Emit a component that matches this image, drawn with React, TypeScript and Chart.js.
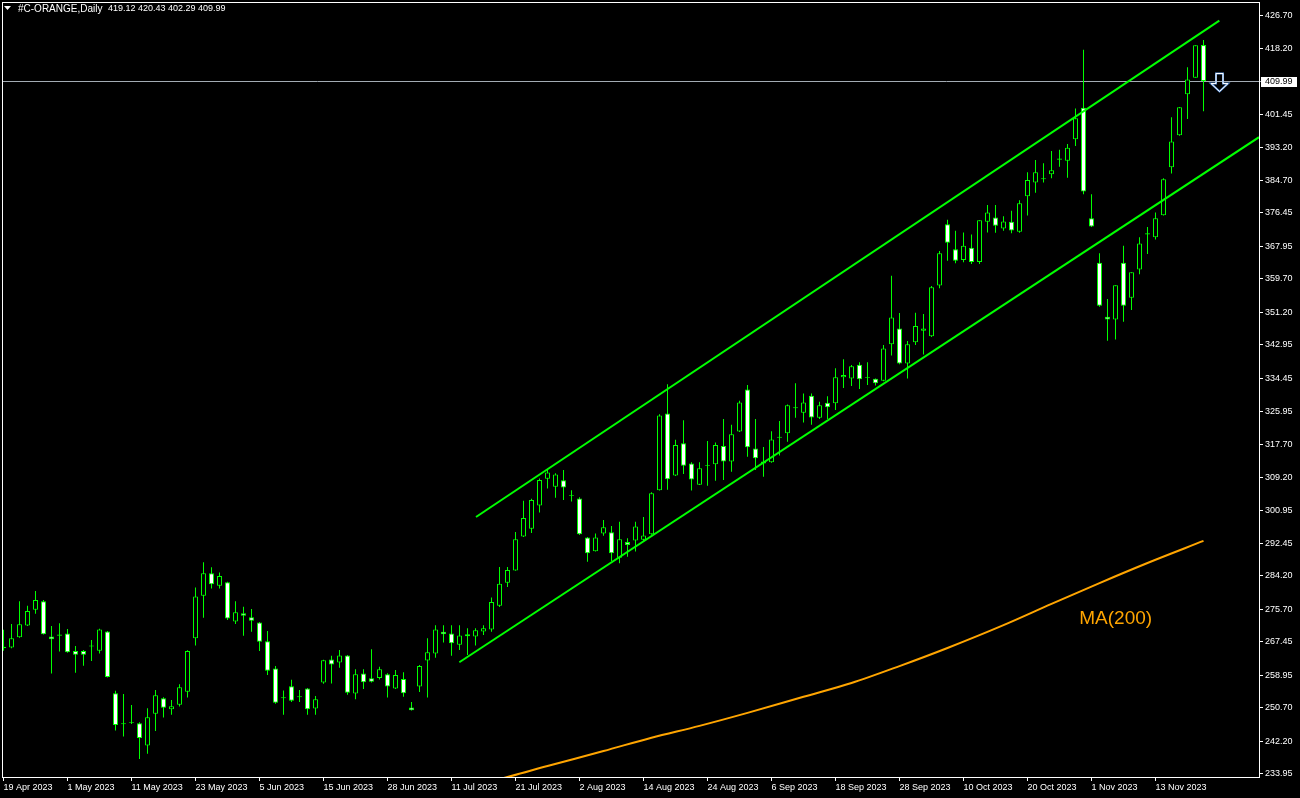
import { useEffect, useRef } from 'react';
import { Chart, registerables } from 'chart.js';

Chart.register(...registerables);

// ---- data ----
const dateLabels = [
  '19 Apr 2023', '1 May 2023', '11 May 2023', '23 May 2023', '5 Jun 2023', '15 Jun 2023',
  '28 Jun 2023', '11 Jul 2023', '21 Jul 2023', '2 Aug 2023', '14 Aug 2023', '24 Aug 2023',
  '6 Sep 2023', '18 Sep 2023', '28 Sep 2023', '10 Oct 2023', '20 Oct 2023', '1 Nov 2023', '13 Nov 2023',
];
const labelEvery = 8;

const opens = [
  265.8, 266.0, 268.6, 271.6, 275.6, 277.8, 268.8, 269.0, 269.6, 265.1,
  265.1, 266.3, 265.2, 270.1, 254.4, 246.5, 246.9, 246.8, 241.1, 249.2,
  253.1, 250.3, 251.5, 254.8, 268.4, 279.2, 284.9, 281.7, 282.6, 272.6,
  274.7, 273.7, 272.4, 267.6, 260.7, 253.1, 256.2, 253.4, 255.6, 250.5,
  257.1, 263.0, 262.2, 264.0, 254.3, 259.4, 258.2, 258.3, 259.2, 255.6,
  258.0, 250.8, 256.1, 262.7, 264.5, 270.0, 269.6, 266.7, 269.4, 268.8,
  270.1, 270.6, 276.6, 282.5, 285.6, 294.2, 296.2, 302.1, 308.9, 306.9,
  308.5, 304.6, 303.9, 294.0, 290.5, 295.0, 295.3, 288.8, 292.8, 293.2,
  293.4, 294.8, 306.0, 325.5, 309.7, 317.9, 312.8, 307.4, 312.2, 312.6,
  317.2, 313.3, 320.9, 331.6, 316.6, 312.8, 313.1, 319.3, 320.5, 326.8,
  325.7, 330.0, 324.4, 328.2, 328.1, 334.7, 334.4, 337.9, 334.5, 334.3,
  333.8, 343.1, 347.1, 338.2, 343.6, 346.5, 345.1, 358.0, 373.6, 367.2,
  364.5, 367.6, 364.0, 374.2, 375.3, 372.5, 374.2, 371.7, 380.7, 384.2,
  385.0, 386.3, 390.0, 389.7, 395.2, 403.2, 375.1, 363.8, 350.1, 349.4,
  363.8, 354.9, 362.1, 371.0, 370.3, 375.9, 388.1, 396.2, 406.6, 410.8,
  419.12,
];
const highs = [
  270.5, 272.0, 277.8, 276.6, 280.4, 278.1, 271.5, 272.2, 270.7, 266.4,
  265.4, 267.9, 270.8, 270.2, 255.0, 254.2, 251.4, 247.0, 250.6, 255.2,
  253.4, 252.7, 256.7, 265.3, 281.3, 287.7, 286.4, 285.1, 282.7, 277.8,
  276.4, 275.8, 272.5, 270.2, 261.3, 255.1, 257.8, 255.2, 255.7, 253.7,
  262.9, 263.9, 265.4, 264.1, 260.5, 260.5, 265.6, 261.1, 259.5, 260.3,
  259.7, 252.2, 261.6, 268.4, 271.7, 271.7, 271.7, 271.7, 270.9, 270.9,
  271.7, 278.7, 286.5, 286.5, 295.4, 303.3, 303.8, 309.0, 311.1, 310.3,
  311.1, 306.0, 304.2, 294.1, 295.0, 298.4, 296.9, 298.0, 293.8, 298.0,
  299.2, 305.5, 325.3, 332.9, 318.8, 323.8, 313.1, 313.1, 318.5, 318.1,
  324.1, 322.6, 328.7, 332.7, 324.1, 317.0, 321.0, 323.6, 327.8, 333.2,
  330.6, 330.6, 328.5, 329.9, 337.0, 339.3, 337.8, 338.5, 338.5, 334.4,
  342.9, 360.5, 351.0, 343.9, 351.1, 350.8, 357.9, 366.8, 374.7, 371.9,
  371.5, 371.0, 374.6, 378.5, 378.5, 375.6, 377.0, 379.7, 386.8, 389.9,
  389.1, 392.2, 392.5, 394.0, 403.0, 417.9, 381.2, 366.2, 354.6, 358.1,
  368.1, 361.4, 370.3, 372.9, 376.6, 385.3, 400.8, 403.4, 413.5, 419.1,
  420.43,
];
const lows = [
  265.2, 265.8, 268.5, 271.5, 274.6, 269.3, 259.4, 265.0, 264.7, 259.6,
  261.4, 262.6, 264.5, 258.4, 244.9, 243.4, 246.6, 237.7, 239.0, 244.8,
  248.2, 248.9, 251.0, 253.3, 266.5, 273.6, 281.0, 281.0, 273.0, 272.0,
  269.0, 270.0, 265.1, 259.0, 251.7, 248.9, 252.2, 252.2, 248.9, 248.9,
  256.8, 256.9, 260.9, 254.0, 252.9, 255.5, 257.1, 257.9, 253.3, 255.5,
  253.5, 250.0, 254.7, 253.3, 263.4, 267.3, 263.9, 265.4, 264.1, 266.5,
  269.2, 270.0, 276.3, 281.4, 285.5, 294.1, 295.1, 300.3, 306.4, 304.1,
  303.5, 303.1, 294.6, 287.8, 290.4, 294.4, 288.0, 287.4, 289.1, 290.4,
  292.9, 294.7, 305.9, 306.1, 309.6, 310.1, 305.9, 307.3, 307.1, 308.4,
  308.6, 310.7, 320.8, 314.5, 311.1, 309.4, 313.0, 314.8, 318.3, 324.4,
  323.2, 322.6, 324.1, 324.1, 326.4, 332.0, 332.5, 331.7, 332.7, 332.6,
  333.7, 340.2, 338.0, 334.4, 342.9, 340.5, 344.9, 357.3, 364.3, 363.7,
  363.9, 363.5, 363.5, 371.5, 371.4, 371.9, 371.3, 371.4, 375.8, 381.6,
  384.2, 385.3, 388.2, 385.4, 393.5, 381.2, 372.9, 352.6, 344.0, 344.3,
  348.8, 351.8, 360.9, 366.0, 369.7, 375.8, 386.5, 396.1, 400.3, 410.8,
  402.29,
];
const closes = [
  266.2, 268.4, 271.9, 275.3, 278.1, 269.4, 268.1, 269.3, 264.8, 264.2,
  264.2, 266.5, 270.6, 258.5, 246.3, 246.8, 247.1, 243.0, 248.3, 253.9,
  250.7, 251.1, 255.9, 265.1, 279.0, 284.9, 282.1, 284.2, 273.4, 275.0,
  274.1, 272.8, 267.5, 260.1, 252.0, 253.4, 252.5, 253.6, 250.3, 252.9,
  262.8, 261.7, 264.0, 254.5, 259.2, 257.2, 257.3, 260.5, 256.1, 259.0,
  254.4, 250.1, 261.3, 264.8, 270.6, 269.4, 267.1, 269.1, 268.9, 270.4,
  270.9, 277.6, 282.2, 285.7, 293.5, 298.9, 303.5, 308.6, 310.5, 310.0,
  306.7, 304.8, 294.8, 290.0, 294.0, 296.6, 290.0, 293.5, 292.1, 296.8,
  294.5, 305.2, 325.0, 308.8, 317.5, 312.2, 308.7, 311.6, 312.4, 317.5,
  313.3, 320.2, 328.3, 316.9, 314.1, 313.3, 318.9, 319.6, 327.6, 327.1,
  328.3, 324.5, 327.6, 327.1, 334.7, 335.3, 337.5, 334.2, 334.7, 333.2,
  342.0, 349.9, 338.2, 343.1, 347.7, 347.1, 357.6, 366.2, 368.9, 364.3,
  368.1, 364.0, 374.6, 376.6, 373.2, 374.3, 372.0, 378.9, 384.8, 386.8,
  385.3, 387.3, 390.3, 393.0, 400.5, 381.9, 373.0, 352.9, 349.4, 358.1,
  352.9, 361.4, 368.7, 371.3, 375.1, 385.0, 394.6, 403.3, 410.4, 419.1,
  409.99,
];

const priceTicks = [
  426.70, 418.20, 401.45, 393.20, 384.70, 376.45, 367.95, 359.70, 351.20, 342.95, 334.45,
  325.95, 317.70, 309.20, 300.95, 292.45, 284.20, 275.70, 267.45, 258.95, 250.70, 242.20, 233.95,
];

const maIndex = [60, 63, 68, 75, 81, 87, 93, 100, 106, 112, 118, 125, 131, 137, 143, 150];
const maValues = [231.6, 233.1, 235.9, 239.7, 243.1, 246.1, 249.4, 253.5, 257.0, 261.3, 265.9, 271.7, 277.1, 282.4, 287.5, 293.1];

const upperChannelIdx = [59.06, 151.98];
const upperChannelPrice = [299.19, 425.32];
const lowerChannelIdx = [56.98, 156.94];
const lowerChannelPrice = [262.27, 395.71];

const symbolTitle = '#C-ORANGE,Daily';
const headerValues = '419.12 420.43 402.29 409.99';
const lastPrice = 409.99;
const arrowIdx = 151.875;
const arrowPrice = 411.95;
const maLabel = 'MA(200)';
const maLabelIdx = 134.47;
const maLabelPrice = 271.99;

const yMin = 233.11;
const yMax = 429.81;
const xMin = -0.0625;
const xMax = 156.9375;

const GREEN = '#00ff00';
const ORANGE = '#ffa500';
const FONT = '"Liberation Sans", Arial, sans-serif';

export default function App() {
  const ref = useRef<HTMLCanvasElement | null>(null);

  useEffect(() => {
    const canvas = ref.current;
    if (!canvas) return;

    const idx = opens.map((_, i) => i);
    const bodies = idx.map((i) => ({ x: i, y: [Math.min(opens[i], closes[i]), Math.max(opens[i], closes[i])] }));
    const wicks = idx.map((i) => ({ x: i, y: [lows[i], highs[i]] }));
    const bodyColors = idx.map((i) => (closes[i] < opens[i] ? '#ffffff' : '#000000'));

    const zeroPad = (s: any) => {
      s.paddingTop = 0;
      s.paddingBottom = 0;
      s.paddingLeft = 0;
      s.paddingRight = 0;
    };

    const overlay = {
      id: 'mt4overlay',
      beforeDraw(chart: any) {
        const c = chart.ctx;
        c.save();
        c.fillStyle = '#000000';
        c.fillRect(0, 0, chart.width, chart.height);
        c.restore();
      },
      beforeDatasetsDraw(chart: any) {
        const c = chart.ctx;
        const ys = chart.scales.y;
        const a = chart.chartArea;
        const py = Math.round(ys.getPixelForValue(lastPrice)) + 0.5;
        c.save();
        c.strokeStyle = '#a3abb3';
        c.lineWidth = 1;
        c.beginPath();
        c.moveTo(a.left, py);
        c.lineTo(a.right + 2, py);
        c.stroke();
        c.restore();
      },
      afterDraw(chart: any) {
        const c = chart.ctx;
        const xs = chart.scales.x;
        const ys = chart.scales.y;
        const a = chart.chartArea;
        c.save();
        // frame
        c.strokeStyle = '#ffffff';
        c.lineWidth = 1;
        c.strokeRect(2.5, 2.5, a.right - 2, a.bottom - 2);

        // current price box
        const py = Math.round(ys.getPixelForValue(lastPrice));
        c.fillStyle = '#ffffff';
        c.fillRect(a.right + 2, py - 4, 36, 10);
        c.fillStyle = '#000000';
        c.font = `9px ${FONT}`;
        c.textBaseline = 'middle';
        c.textAlign = 'left';
        c.fillText(lastPrice.toFixed(2), a.right + 6, py + 1);

        // header
        c.fillStyle = '#ffffff';
        c.beginPath();
        c.moveTo(4, 6);
        c.lineTo(11, 6);
        c.lineTo(7.5, 10);
        c.closePath();
        c.fill();
        c.textBaseline = 'middle';
        c.font = `10px ${FONT}`;
        c.fillText(symbolTitle, 18, 9);
        c.font = `9px ${FONT}`;
        c.fillText(headerValues, 108, 9);

        // MA label
        c.fillStyle = ORANGE;
        c.font = `19px ${FONT}`;
        c.textBaseline = 'alphabetic';
        c.fillText(maLabel, xs.getPixelForValue(maLabelIdx), ys.getPixelForValue(maLabelPrice));

        // down arrow
        const ax = Math.round(xs.getPixelForValue(arrowIdx)) + 0.5;
        const ay = Math.round(ys.getPixelForValue(arrowPrice)) + 0.5;
        const pts = [[-3.5, 0], [3.5, 0], [3.5, 10], [8.5, 10], [0, 18], [-8.5, 10], [-3.5, 10]];
        c.beginPath();
        pts.forEach(([dx, dy], k) => (k ? c.lineTo(ax + dx, ay + dy) : c.moveTo(ax + dx, ay + dy)));
        c.closePath();
        c.strokeStyle = '#5b8fd6';
        c.lineWidth = 2;
        c.stroke();
        c.strokeStyle = '#ffffff';
        c.lineWidth = 1;
        c.stroke();
        c.restore();
      },
    };

    const chart = new Chart(canvas, {
      type: 'bar',
      data: {
        datasets: [
          {
            type: 'line',
            label: 'upper',
            data: upperChannelIdx.map((x, k) => ({ x, y: upperChannelPrice[k] })),
            borderColor: GREEN,
            borderWidth: 2,
            pointRadius: 0,
          } as any,
          {
            type: 'line',
            label: 'lower',
            data: lowerChannelIdx.map((x, k) => ({ x, y: lowerChannelPrice[k] })),
            borderColor: GREEN,
            borderWidth: 2,
            pointRadius: 0,
          } as any,
          {
            type: 'bar',
            label: 'bodies',
            data: bodies,
            backgroundColor: bodyColors,
            borderColor: GREEN,
            borderWidth: 1,
            borderSkipped: false,
            barThickness: 5,
            grouped: false,
            inflateAmount: 0,
          } as any,
          {
            type: 'bar',
            label: 'wicks',
            data: wicks,
            backgroundColor: GREEN,
            borderWidth: 0,
            barThickness: 1,
            grouped: false,
            inflateAmount: 0,
          } as any,
          {
            type: 'line',
            label: 'MA(200)',
            data: maIndex.map((x, k) => ({ x, y: maValues[k] })),
            borderColor: ORANGE,
            borderWidth: 2,
            pointRadius: 0,
            cubicInterpolationMode: 'monotone',
          } as any,
        ],
      },
      options: {
        responsive: false,
        animation: false,
        devicePixelRatio: 1,
        layout: { padding: { left: 3, top: 3, right: 0, bottom: 0 } },
        plugins: { legend: { display: false }, tooltip: { enabled: false } },
        events: [],
        scales: {
          x: {
            type: 'linear',
            min: xMin,
            max: xMax,
            offset: false,
            afterFit: (s: any) => { s.height = 21; zeroPad(s); },
            afterBuildTicks: (s: any) => {
              s.ticks = dateLabels.map((_, k) => ({ value: k * labelEvery }));
            },
            grid: { display: true, drawOnChartArea: false, drawTicks: true, tickLength: 4, color: '#ffffff', offset: false },
            border: { display: false },
            ticks: {
              autoSkip: false,
              maxRotation: 0,
              minRotation: 0,
              align: 'start',
              padding: 1,
              color: '#ffffff',
              font: { family: FONT, size: 9 },
              callback: (v: any) => dateLabels[Math.round(Number(v) / labelEvery)] ?? '',
            },
          } as any,
          y: {
            type: 'linear',
            position: 'right',
            min: yMin,
            max: yMax,
            beginAtZero: false,
            afterFit: (s: any) => { s.width = 41; zeroPad(s); },
            afterBuildTicks: (s: any) => {
              s.ticks = priceTicks.map((v) => ({ value: v }));
            },
            grid: { display: true, drawOnChartArea: false, drawTicks: true, tickLength: 4, color: '#ffffff' },
            border: { display: false },
            ticks: {
              autoSkip: false,
              padding: 2,
              color: '#ffffff',
              font: { family: FONT, size: 9 },
              callback: (v: any) => Number(v).toFixed(2),
            },
          } as any,
        },
      } as any,
      plugins: [overlay],
    });

    return () => chart.destroy();
  }, []);

  return (
    <div style={{ position: 'fixed', left: 0, top: 0, width: 1300, height: 798, background: '#000' }}>
      <canvas ref={ref} width={1300} height={798} style={{ display: 'block' }} />
    </div>
  );
}
